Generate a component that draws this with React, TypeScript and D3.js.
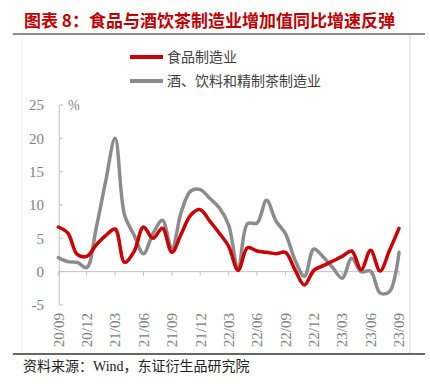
import React from "react";
import * as d3 from "d3";

const months: string[] = [
  "2020-09","2020-10","2020-11","2020-12","2021-01","2021-02","2021-03","2021-04","2021-05","2021-06",
  "2021-07","2021-08","2021-09","2021-10","2021-11","2021-12","2022-01","2022-02","2022-03","2022-04",
  "2022-05","2022-06","2022-07","2022-08","2022-09","2022-10","2022-11","2022-12","2023-01","2023-02",
  "2023-03","2023-04","2023-05","2023-06","2023-07","2023-08","2023-09",
];

const foodValues: number[] = [
  6.7, 5.8, 2.6, 2.3, 4.0, 5.4, 6.4, 1.4, 3.0, 6.7,
  5.0, 6.5, 2.9, 5.7, 8.5, 9.3, 7.6, 5.8, 3.8, 0.2,
  3.6, 3.1, 2.9, 2.7, 2.9, 0.3, -2.0, 0.2, 0.9, 1.6,
  2.3, 3.1, 0.3, 3.2, 0.1, 3.2, 6.5,
];

const drinkValues: number[] = [
  2.1, 1.5, 1.4, 0.6, 6.5, 13.5, 20.0, 8.5, 5.5, 2.7,
  5.7, 7.7, 3.4, 9.0, 12.1, 12.3, 11.0, 9.6, 7.0, 0.4,
  7.2, 7.3, 10.7, 7.6, 5.7, 1.8, -0.7, 3.4, 2.2, 0.6,
  -1.0, 2.0, 0.0, 0.1, -3.2, -3.0, 2.9,
];

const seriesNames: string[] = ["食品制造业", "酒、饮料和精制茶制造业"];
const yTicks: number[] = [25, 20, 15, 10, 5, 0, -5];
const xTickLabels: string[] = [
  "20/09","20/12","21/03","21/06","21/09","21/12","22/03","22/06","22/09","22/12","23/03","23/06","23/09",
];

const RED = "#cc0000";
const GRAY = "#8c8c8c";
const SERIF = "'Liberation Serif', 'Times New Roman', serif";
const CJK = "'Noto Sans CJK SC', sans-serif";

export default function App() {
  const x = d3.scaleLinear().domain([0, months.length - 1]).range([58.3, 399]);
  const y = d3.scaleLinear().domain([-5, 25]).range([305, 105]);

  const line = d3
    .line<number>()
    .x((_, i) => x(i))
    .y((d) => y(d))
    .curve(d3.curveCatmullRom.alpha(0.5));

  const xTickIdx = xTickLabels.map((_, k) => k * 3);
  const axisColor = "#c0c0c0";
  const labelColor = "#808080";

  return (
    <svg
      width={430}
      height={388}
      style={{ position: "absolute", left: 0, top: 0, background: "#fff" }}
    >
      <text x={24} y={26.5} fill="#c00000" fontFamily={CJK} fontWeight={700} fontSize={17}>
        图表 8：食品与酒饮茶制造业增加值同比增速反弹
      </text>
      <line x1={13} x2={425} y1={34} y2={34} stroke="#8c8c8c" strokeWidth={2} />
      <line x1={22} x2={22} y1={35} y2={354} stroke="#f2f2f2" strokeWidth={1} />
      <line x1={410} x2={410} y1={35} y2={354} stroke="#d4d4d4" strokeWidth={1} />
      <line x1={13} x2={425} y1={354} y2={354} stroke="#333" strokeWidth={1.5} />

      {/* legend */}
      <line x1={130} x2={163} y1={57} y2={57} stroke={RED} strokeWidth={4} />
      <text x={167} y={62} fontFamily={CJK} fontSize={14} fill="#404040">{seriesNames[0]}</text>
      <line x1={130} x2={163} y1={81} y2={81} stroke={GRAY} strokeWidth={4} />
      <text x={167} y={86} fontFamily={CJK} fontSize={14} fill="#404040">{seriesNames[1]}</text>

      {/* y axis */}
      <line x1={59.3} x2={59.3} y1={y(25)} y2={y(-5)} stroke={axisColor} strokeWidth={1} />
      {yTicks.map((t) => (
        <g key={t}>
          <line x1={59.3} x2={63} y1={y(t)} y2={y(t)} stroke={axisColor} />
          <text x={44} y={y(t)} dy="0.35em" textAnchor="end" fontFamily={SERIF} fontSize={15} fill={labelColor}>
            {t}
          </text>
        </g>
      ))}
      <text x={68} y={110} fontFamily={SERIF} fontSize={14} fill={labelColor}>%</text>

      {/* x axis at zero */}
      <line x1={x(0)} x2={x(months.length - 1) + 1} y1={y(0)} y2={y(0)} stroke={axisColor} strokeWidth={1} />
      {xTickIdx.map((i, k) => (
        <g key={k}>
          <line x1={x(i)} x2={x(i)} y1={y(0)} y2={y(0) + 4} stroke={axisColor} />
          <text
            transform={`translate(${x(i)},313) rotate(-90)`}
            dy="0.35em"
            textAnchor="end"
            fontFamily={SERIF}
            fontSize={15}
            fill={labelColor}
          >
            {xTickLabels[k]}
          </text>
        </g>
      ))}

      {/* series */}
      <path d={line(drinkValues) || ""} fill="none" stroke={GRAY} strokeWidth={3.5} strokeLinejoin="round" strokeLinecap="round" />
      <path d={line(foodValues) || ""} fill="none" stroke={RED} strokeWidth={3.5} strokeLinejoin="round" strokeLinecap="round" />

      <text x={23} y={371} fontFamily={CJK} fontSize={14} fill="#222">
        资料来源：<tspan fontFamily={SERIF}>Wind</tspan>，东证衍生品研究院
      </text>
    </svg>
  );
}
